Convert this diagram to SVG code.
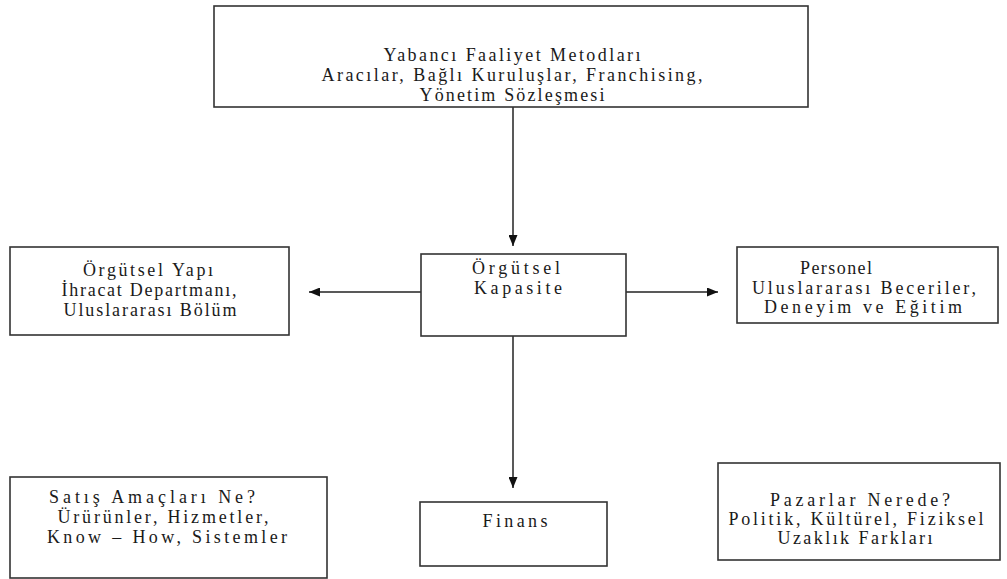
<svg xmlns="http://www.w3.org/2000/svg" width="1007" height="579" viewBox="0 0 1007 579">
<defs>
<style>
.box{fill:#fff;stroke:#333;stroke-width:1.6}
.t{font-family:'Liberation Serif','Times New Roman',serif;font-size:18px;fill:#1a1a1a;text-anchor:middle}
.c{stroke:#222;stroke-width:1.5;fill:none}
</style>
<marker id="ah" viewBox="0 0 11 9" refX="11" refY="4.5" markerWidth="11" markerHeight="9" markerUnits="userSpaceOnUse" orient="auto">
<path d="M0,0 L11,4.5 L0,9 Z" fill="#111"/>
</marker>
</defs>
<rect width="1007" height="579" fill="#fff"/>
<g id="connectors">
<line class="c" x1="513" y1="107" x2="513" y2="246" marker-end="url(#ah)"/>
<line class="c" x1="421" y1="292" x2="309" y2="292" marker-end="url(#ah)"/>
<line class="c" x1="626" y1="292" x2="718" y2="292" marker-end="url(#ah)"/>
<line class="c" x1="513" y1="336" x2="513" y2="488" marker-end="url(#ah)"/>
</g>
<g id="node-yabanci">
<rect class="box" x="214" y="6" width="594" height="101"/>
<text class="t" x="512" y="61" textLength="257" lengthAdjust="spacing">Yabancı Faaliyet Metodları</text>
<text class="t" x="512" y="81" textLength="381" lengthAdjust="spacing">Aracılar, Bağlı Kuruluşlar, Franchising,</text>
<text class="t" x="512" y="101" textLength="185" lengthAdjust="spacing">Yönetim Sözleşmesi</text>
</g>
<g id="node-orgyapi">
<rect class="box" x="10" y="247" width="279" height="88"/>
<text class="t" x="148" y="276" textLength="130" lengthAdjust="spacing">Örgütsel Yapı</text>
<text class="t" x="149" y="296" textLength="175" lengthAdjust="spacing">İhracat Departmanı,</text>
<text class="t" x="150" y="316" textLength="173" lengthAdjust="spacing">Uluslararası Bölüm</text>
</g>
<g id="node-kapasite">
<rect class="box" x="421" y="254" width="205" height="82"/>
<text class="t" x="516" y="274" textLength="88" lengthAdjust="spacing">Örgütsel</text>
<text class="t" x="518" y="294" textLength="88" lengthAdjust="spacing">Kapasite</text>
</g>
<g id="node-personel">
<rect class="box" x="737" y="247" width="261" height="76"/>
<text class="t" x="836" y="274" textLength="72" lengthAdjust="spacing">Personel</text>
<text class="t" x="864" y="294" textLength="224" lengthAdjust="spacing">Uluslararası Beceriler,</text>
<text class="t" x="863" y="313" textLength="198" lengthAdjust="spacing">Deneyim ve Eğitim</text>
</g>
<g id="node-satis">
<rect class="box" x="10" y="477" width="317" height="101"/>
<text class="t" x="152" y="503" textLength="206" lengthAdjust="spacing">Satış Amaçları Ne?</text>
<text class="t" x="163" y="523" textLength="211" lengthAdjust="spacing">Ürürünler, Hizmetler,</text>
<text class="t" x="167" y="543" textLength="240" lengthAdjust="spacing">Know – How, Sistemler</text>
</g>
<g id="node-finans">
<rect class="box" x="420" y="502" width="187" height="64"/>
<text class="t" x="515" y="527" textLength="65" lengthAdjust="spacing">Finans</text>
</g>
<g id="node-pazarlar">
<rect class="box" x="718" y="463" width="282" height="97"/>
<text class="t" x="860" y="506" textLength="180" lengthAdjust="spacing">Pazarlar Nerede?</text>
<text class="t" x="856" y="525" textLength="255" lengthAdjust="spacing">Politik, Kültürel, Fiziksel</text>
<text class="t" x="855" y="544" textLength="155" lengthAdjust="spacing">Uzaklık Farkları</text>
</g>
</svg>
